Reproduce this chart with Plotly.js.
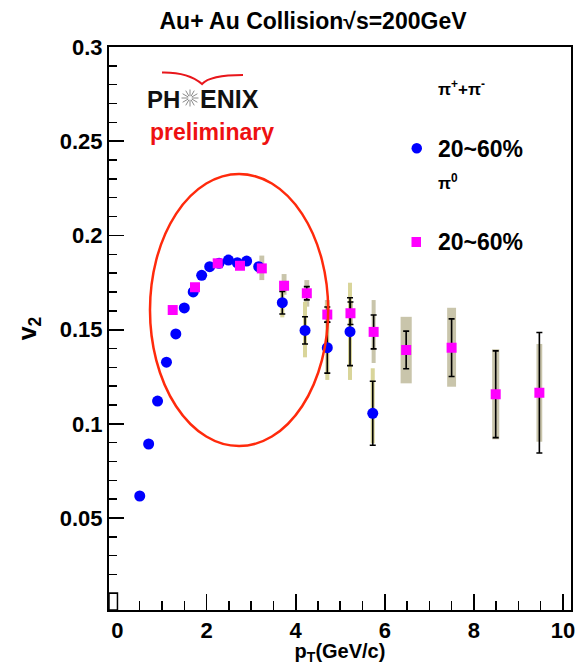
<!DOCTYPE html>
<html>
<head>
<meta charset="utf-8">
<script src="https://cdn.plot.ly/plotly-3.0.1.min.js"></script>
<style>html,body{margin:0;padding:0;background:#fff;}#chart{width:587px;height:665px;}</style>
</head>
<body>
<div id="chart"></div>
<script>
// ---- data ----
const pipmPt   = [0.50,0.70,0.90,1.10,1.31,1.50,1.70,1.89,2.07,2.28,2.49,2.69,2.90,3.17,3.70,4.21,4.71,5.22,5.73];
const pipmV2   = [0.0617,0.0893,0.1121,0.1327,0.1477,0.1615,0.1700,0.1788,0.1834,0.1852,0.1869,0.1855,0.1864,0.1834,0.1643,0.1496,0.1404,0.1489,0.1056];
const pipmStat = [0.001,0.001,0.001,0.001,0.001,0.001,0.001,0.001,0.001,0.001,0.001,0.0015,0.0015,0.002,0.006,0.0072,0.0135,0.018,0.017];
const pipmSysPt = [3.70,4.21,4.71,5.22,5.73];
const pipmSysLo = [0.1565,0.1353,0.1233,0.1233,0.0896];
const pipmSysHi = [0.1710,0.1648,0.1648,0.1749,0.1295];

const pi0Pt   = [1.24,1.74,2.25,2.75,3.24,3.74,4.25,4.71,5.23,5.75,6.48,7.50,8.49,9.47];
const pi0V2   = [0.1604,0.1725,0.1852,0.1839,0.1825,0.1733,0.1693,0.1580,0.1587,0.1488,0.1392,0.1404,0.1157,0.1165];
const pi0Stat = [0.001,0.001,0.001,0.001,0.0015,0.002,0.0035,0.004,0.006,0.009,0.010,0.0153,0.023,0.032];
const pi0SysPt = [3.24,3.74,4.25,4.71,5.23,5.75,6.48,7.50,8.49,9.47];
const pi0SysLo = [0.1763,0.1685,0.1622,0.1533,0.1525,0.1323,0.1215,0.1197,0.0918,0.0905];
const pi0SysHi = [0.1893,0.1795,0.1763,0.1657,0.1650,0.1657,0.1568,0.1616,0.1396,0.1424];

const xTicks = [0,2,4,6,8,10];
const yTicks = [0.05,0.1,0.15,0.2,0.25,0.3];
const legendLabels = ["π<sup>+</sup>+π<sup>-</sup>", "20~60%", "π<sup>0</sup>", "20~60%"];

// ---- style ----
const pi0SysWidth = [0.11,0.11,0.11,0.11,0.11,0.09,0.25,0.20,0.16,0.13];
const FONT = "Liberation Sans, Arial, Helvetica, sans-serif";
const L = 109, R = 571, T = 47, B = 610;
const px = v => (v - L) / (R - L);
const py = v => (B - v) / (B - T);

const diff = (hi, lo) => hi.map((h, i) => h - lo[i]);

const traces = [
  { type: 'bar', x: pi0SysPt, y: diff(pi0SysHi, pi0SysLo), base: pi0SysLo, width: pi0SysWidth,
    marker: { color: '#c9c5ab', line: { width: 0 } }, hoverinfo: 'skip', showlegend: false },
  { type: 'bar', x: pipmSysPt, y: diff(pipmSysHi, pipmSysLo), base: pipmSysLo, width: pipmSysPt.map(() => 0.09),
    marker: { color: '#d9d59a', line: { width: 0 } }, hoverinfo: 'skip', showlegend: false },
  { type: 'scatter', mode: 'markers', x: pipmPt, y: pipmV2,
    error_y: { type: 'data', array: pipmStat, visible: true, color: '#000', thickness: 1.6, width: 3 },
    marker: { symbol: 'circle', size: 11, color: '#0000ff' }, showlegend: false },
  { type: 'scatter', mode: 'markers', x: pi0Pt, y: pi0V2,
    error_y: { type: 'data', array: pi0Stat, visible: true, color: '#000', thickness: 1.6, width: 3 },
    marker: { symbol: 'square', size: 10, color: '#ff00ff' }, showlegend: false }
];

// star rays for the logo
const shapes = [];
const sx = 190, sy = 98, sr = 8.5;
for (let k = 0; k < 12; k++) {
  const a = k * Math.PI / 6;
  shapes.push({ type: 'line', xref: 'paper', yref: 'paper',
    x0: px(sx + 2 * Math.cos(a)), y0: py(sy + 2 * Math.sin(a)),
    x1: px(sx + sr * Math.cos(a)), y1: py(sy + sr * Math.sin(a)),
    line: { color: '#8a8a8a', width: 1 } });
}
// red arc over logo
shapes.push({ type: 'path', xref: 'paper', yref: 'paper',
  path: `M ${px(162)},${py(72.5)} Q ${px(188)},${py(72)} ${px(202)},${py(84)} Q ${px(210)},${py(75)} ${px(243)},${py(75)}`,
  line: { color: '#e8161b', width: 2 } });
// ellipse
shapes.push({ type: 'circle', xref: 'x', yref: 'y', x0: 0.73, x1: 4.73, y0: 0.0882, y1: 0.2326,
  line: { color: '#ff2a0c', width: 2.5 } });
// small artifact box at bottom left
shapes.push({ type: 'rect', xref: 'x', yref: 'y', x0: -0.19, x1: 0.0, y0: 0.0012, y1: 0.0102,
  line: { color: '#000', width: 1.5 } });
// legend markers
shapes.push({ type: 'circle', xref: 'paper', yref: 'paper', x0: px(411.5), x1: px(422), y0: py(153.5), y1: py(143),
  fillcolor: '#0000ff', line: { color: '#0000ff', width: 0 } });
shapes.push({ type: 'rect', xref: 'paper', yref: 'paper', x0: px(411.5), x1: px(421), y0: py(247), y1: py(237),
  fillcolor: '#ff00ff', line: { color: '#ff00ff', width: 0 } });

const ann = (text, x, y, size, color, xanchor) => ({
  text, xref: 'paper', yref: 'paper', x: px(x), y: py(y), xanchor: xanchor || 'left', yanchor: 'middle',
  showarrow: false, font: { family: FONT, size, color: color || '#000', weight: 'bold' }
});

const annotations = [
  ann('PH', 182, 99, 24, '#111', 'right'),
  ann('ENIX', 198, 99, 25, '#111', 'left'),
  ann('preliminary', 212, 132, 23, '#ee1111', 'center'),
  ann(legendLabels[0], 436, 88, 17),
  ann(legendLabels[1], 436, 149, 23),
  ann(legendLabels[2], 436, 182, 17),
  ann(legendLabels[3], 436, 242, 23)
];

const layout = {
  width: 587, height: 665,
  margin: { l: L, r: 587 - R, t: T, b: 665 - B, pad: 0 },
  paper_bgcolor: '#fff', plot_bgcolor: '#fff',
  showlegend: false, barmode: 'overlay',
  title: { text: 'Au+ Au Collision√s=200GeV', x: 313 / 587, xref: 'container', xanchor: 'center',
    y: 1 - 21 / 665, yref: 'container', yanchor: 'middle',
    font: { family: FONT, size: 23, weight: 'bold', color: '#000' } },
  xaxis: {
    range: [-0.19, 10.18], tickvals: xTicks, ticktext: xTicks.map(String),
    ticks: 'inside', ticklen: 16, tickwidth: 1.8, tickcolor: '#000',
    minor: { dtick: 0.5, tick0: 0, ticks: 'inside', ticklen: 9, tickwidth: 1.5, tickcolor: '#000', showgrid: false },
    showline: true, linecolor: '#000', linewidth: 2, mirror: true, showgrid: false, zeroline: false,
    tickfont: { family: FONT, size: 22, weight: 'bold', color: '#000' },
    title: { text: 'p<sub>T</sub>(GeV/c)', standoff: 0, font: { family: FONT, size: 20, weight: 'bold', color: '#000' } }
  },
  yaxis: {
    range: [0.0012, 0.3], tickvals: yTicks, ticktext: yTicks.map(String),
    ticks: 'inside', ticklen: 15, tickwidth: 1.8, tickcolor: '#000',
    minor: { dtick: 0.01, tick0: 0, ticks: 'inside', ticklen: 8, tickwidth: 1.5, tickcolor: '#000', showgrid: false },
    showline: true, linecolor: '#000', linewidth: 2, mirror: true, showgrid: false, zeroline: false,
    tickfont: { family: FONT, size: 22, weight: 'bold', color: '#000' },
    title: { text: 'v<sub>2</sub>', standoff: 16, font: { family: FONT, size: 25, weight: 'bold', color: '#000' } }
  },
  shapes, annotations
};

Plotly.newPlot('chart', traces, layout, { displayModeBar: false, staticPlot: true });
</script>
</body>
</html>
